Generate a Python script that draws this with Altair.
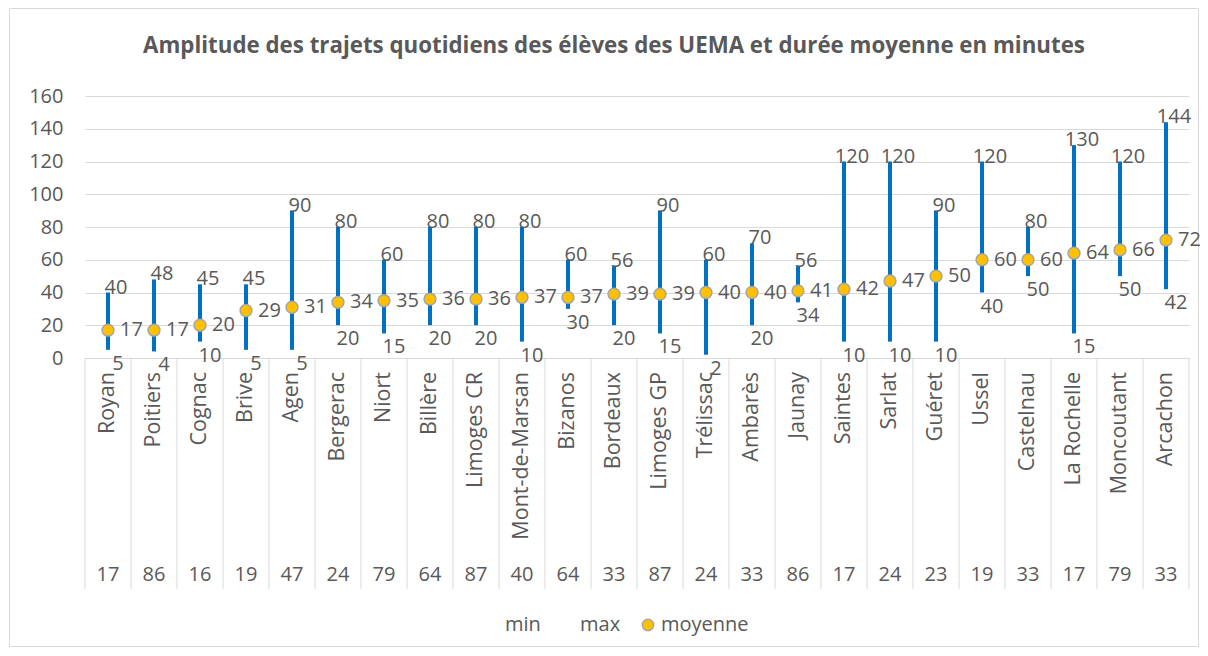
import altair as alt
import pandas as pd

cities = ["Royan", "Poitiers", "Cognac", "Brive", "Agen", "Bergerac", "Niort", "Billère",
          "Limoges CR", "Mont-de-Marsan", "Bizanos", "Bordeaux", "Limoges GP", "Trélissac",
          "Ambarès", "Jaunay", "Saintes", "Sarlat", "Guéret", "Ussel", "Castelnau",
          "La Rochelle", "Moncoutant", "Arcachon"]
depts = ["17", "86", "16", "19", "47", "24", "79", "64", "87", "40", "64", "33", "87", "24",
         "33", "86", "17", "24", "23", "19", "33", "17", "79", "33"]
mins = [5, 4, 10, 5, 5, 20, 15, 20, 20, 10, 30, 20, 15, 2, 20, 34, 10, 10, 10, 40, 50, 15, 50, 42]
maxs = [40, 48, 45, 45, 90, 80, 60, 80, 80, 80, 60, 56, 90, 60, 70, 56, 120, 120, 90, 120, 80,
        130, 120, 144]
means = [17, 17, 20, 29, 31, 34, 35, 36, 36, 37, 37, 39, 39, 40, 40, 41, 42, 47, 50, 60, 60,
         64, 66, 72]
y_ticks = [0, 20, 40, 60, 80, 100, 120, 140, 160]

TITLE = "Amplitude des trajets quotidiens des élèves des UEMA et durée moyenne en minutes"

df = pd.DataFrame({"city": cities, "dept": depts, "min": mins, "max": maxs, "moyenne": means})
last = df.iloc[[-1]]
one = pd.DataFrame({"k": [0]})

W, H = 1104, 262
FONT = "Open Sans"
GRAY = "#595959"
GRID = "#d9d9d9"

band = alt.Scale(type="band", paddingInner=0, paddingOuter=0)
xenc = alt.X("city:N", sort=cities, scale=band, axis=None)
yscale = alt.Scale(domain=[0, 160], nice=False, zero=True)
yaxis = alt.Axis(values=y_ticks, tickCount=9, grid=True, gridColor=GRID, labelOverlap=False,
                 gridWidth=1, domain=False, ticks=False, labelPadding=22,
                 labelFontSize=20, labelFont=FONT, labelColor=GRAY, title=None)


def Y(field):
    return alt.Y(field, scale=yscale, axis=yaxis)


base = alt.Chart(df)

lines = base.mark_rule(color="#0070C0", strokeWidth=4).encode(
    x=xenc, y=Y("min:Q"), y2="max:Q")

points = base.mark_point(filled=True, shape="circle", size=140, fill="#FFC000",
                         stroke="#A5A5A5", strokeWidth=1.5, opacity=1).encode(
    x=xenc, y=Y("moyenne:Q"))

txt = dict(font=FONT, fontSize=20, color=GRAY)

mean_lbl = base.mark_text(align="left", baseline="middle", dx=12, **txt).encode(
    x=xenc, y=Y("moyenne:Q"), text="moyenne:Q")
max_lbl = base.mark_text(align="center", baseline="middle", dx=8, dy=-5, **txt).encode(
    x=xenc, y=Y("max:Q"), text="max:Q")
min_lbl = base.mark_text(align="center", baseline="middle", dx=10, dy=14, **txt).encode(
    x=xenc, y=Y("min:Q"), text="min:Q")

seps = base.mark_rule(color=GRID, strokeWidth=1).encode(
    x=alt.X("city:N", sort=cities, bandPosition=0, scale=band, axis=None),
    y=alt.value(H), y2=alt.value(H + 231))
sep_end = alt.Chart(last).mark_rule(color=GRID, strokeWidth=1).encode(
    x=alt.X("city:N", sort=cities, bandPosition=1, scale=band, axis=None),
    y=alt.value(H), y2=alt.value(H + 231))

city_lbl = base.mark_text(angle=270, align="right", baseline="middle", font=FONT,
                          fontSize=21.5, color=GRAY).encode(
    x=xenc, y=alt.value(H + 14), text="city:N")
dept_lbl = base.mark_text(align="center", baseline="middle", **txt).encode(
    x=xenc, y=alt.value(H + 217), text="dept:N")

frame = alt.Chart(one).mark_rect(fill=None, fillOpacity=0, stroke=GRID, strokeWidth=1).encode(
    x=alt.value(-75.5), x2=alt.value(W + 9.5), y=alt.value(-87.5), y2=alt.value(H + 288.5))

title = alt.Chart(one).mark_text(text=TITLE, font=FONT, fontSize=22.3, fontWeight="bold",
                                 color=GRAY, align="center", baseline="middle").encode(
    x=alt.value(529), y=alt.value(-50))

leg_min = alt.Chart(one).mark_text(text="min", align="left", baseline="middle", **txt).encode(
    x=alt.value(420), y=alt.value(529))
leg_max = alt.Chart(one).mark_text(text="max", align="left", baseline="middle", **txt).encode(
    x=alt.value(495), y=alt.value(529))
leg_dot = alt.Chart(one).mark_point(filled=True, shape="circle", size=130, fill="#FFC000",
                                    stroke="#A5A5A5", strokeWidth=1.5, opacity=1).encode(
    x=alt.value(563), y=alt.value(529))
leg_moy = alt.Chart(one).mark_text(text="moyenne", align="left", baseline="middle", **txt).encode(
    x=alt.value(576), y=alt.value(529))

chart = alt.layer(
    frame, seps, sep_end, lines, points, mean_lbl, max_lbl, min_lbl, city_lbl, dept_lbl,
    title, leg_min, leg_max, leg_dot, leg_moy
).properties(
    width=W, height=H,
    autosize=alt.AutoSizeParams(type="none"),
    padding={"left": 77, "top": 88, "right": 11, "bottom": 290},
    background="white",
).configure_view(stroke=None)

chart.save("out.html", embed_options={"renderer": "svg", "actions": False})
